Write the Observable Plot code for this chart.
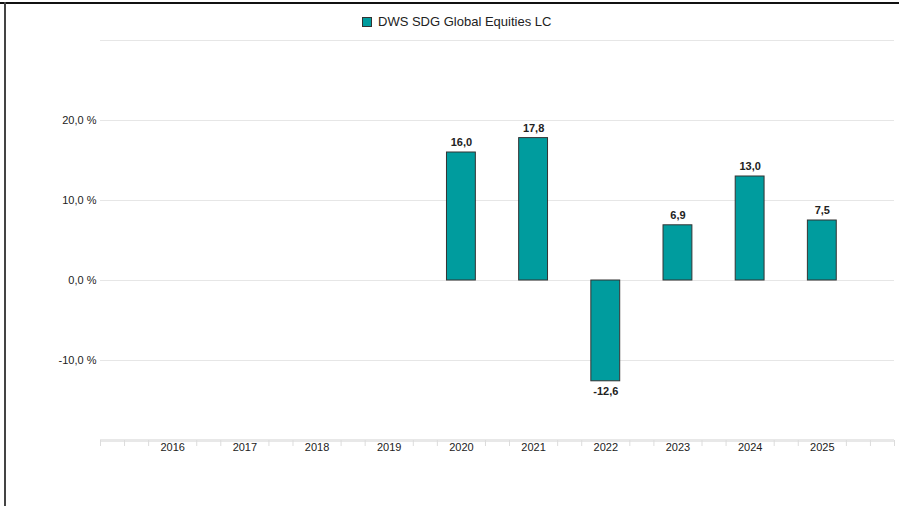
<!DOCTYPE html>
<html>
<head>
<meta charset="utf-8">
<script src="https://cdn.jsdelivr.net/npm/d3@7"></script>
<script src="https://cdn.jsdelivr.net/npm/@observablehq/plot@0.6"></script>
<style>
  html, body { margin: 0; padding: 0; background: #fff; overflow: hidden; }
  #wrap { position: relative; width: 899px; height: 506px; font-family: "Liberation Sans", Arial, sans-serif; }
  #topline { position: absolute; left: 0; top: 2px; width: 899px; height: 2px; background: #111; }
  #leftline { position: absolute; left: 4px; top: 2px; width: 2px; height: 504px; background: #444; }
  #legend { height: 30px; box-sizing: border-box; padding-top: 14px; padding-left: 362px; font-size: 13px; color: #222; line-height: 15px; white-space: nowrap; }
  #legend .sw { display: inline-block; width: 8px; height: 8px; background: #009c9e; border: 1px solid #333; vertical-align: -1px; margin-right: 6px; }
  svg { display: block; }
</style>
</head>
<body>
<div id="wrap">
  <div id="legend"><span class="sw"></span>DWS SDG Global Equities LC</div>
  <div id="chart"></div>
  <div id="topline"></div>
  <div id="leftline"></div>
</div>
<script>
const years = [2016, 2017, 2018, 2019, 2020, 2021, 2022, 2023, 2024, 2025];
const values = [null, null, null, null, 16.0, 17.8, -12.6, 6.9, 13.0, 7.5];
const yTicks = [-10, 0, 10, 20];
const gridTicks = [-10, 0, 10, 20, 30];
const seriesName = "DWS SDG Global Equities LC";

const data = years.map((y, i) => ({year: y, value: values[i]})).filter(d => d.value != null);
const minorTicks = d3.range(0, 34).map(k => 2015 + k / 3).filter((v, k) => k % 3 !== 0 || k === 0 || k === 33);
const fmt = v => v.toFixed(1).replace(".", ",");

const chart = Plot.plot({
  width: 899,
  height: 476,
  marginTop: 10,
  marginBottom: 66,
  marginLeft: 100,
  marginRight: 5,
  style: {fontFamily: "'Liberation Sans', Arial, sans-serif", fontSize: "11px", color: "#222", background: "#fff"},
  x: {type: "linear", domain: [2015, 2026], label: null},
  y: {domain: [-20, 30], label: null},
  marks: [
    Plot.ruleY(gridTicks, {stroke: "#e6e6e6", strokeWidth: 1}),
    Plot.axisY({ticks: yTicks, tickSize: 0, tickPadding: 4, tickFormat: d => fmt(d) + " %", fill: "#222", fontSize: 11, label: null}),
    Plot.ruleY([-20], {stroke: "#e8e8e8", strokeWidth: 3}),
    Plot.axisX({ticks: minorTicks, tickSize: 6, tickFormat: () => "", stroke: "#dcdcdc", label: null}),
    Plot.axisX({ticks: years, tickSize: 0, tickPadding: 3, tickFormat: d => String(d), fill: "#222", fontSize: 11, label: null}),
    Plot.rectY(data, {x1: d => d.year - 0.2, x2: d => d.year + 0.2, y1: 0, y2: "value", fill: "#009c9e", stroke: "#333", strokeWidth: 1}),
    Plot.text(data.filter(d => d.value >= 0), {x: "year", y: "value", text: d => fmt(d.value), dy: -10, fontWeight: "bold", fontSize: 11, fill: "#222"}),
    Plot.text(data.filter(d => d.value < 0), {x: "year", y: "value", text: d => fmt(d.value), dy: 10, fontWeight: "bold", fontSize: 11, fill: "#222"})
  ]
});
document.getElementById("chart").appendChild(chart);
</script>
</body>
</html>
